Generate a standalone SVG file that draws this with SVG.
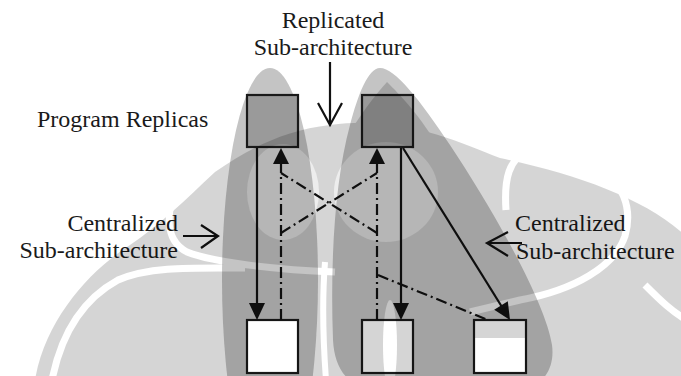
<svg xmlns="http://www.w3.org/2000/svg" width="681" height="376" viewBox="0 0 681 376">
<defs>
<style>
.box{stroke:#1a1a1a;stroke-width:2.2}
.ln{stroke:#111;stroke-width:2.2;fill:none}
.dd{stroke:#111;stroke-width:2.2;fill:none;stroke-dasharray:11 4 2 4}
.hd{fill:#111;stroke:none}
.petal{fill:#c4c4c4}
.lab{font-family:'Liberation Serif','Times New Roman',Times,'Noto Serif','DejaVu Serif',FreeSerif,Tinos,serif;font-size:24px;fill:#1a1a1a}
</style>
<mask id="wm" maskUnits="userSpaceOnUse" x="0" y="0" width="681" height="376">
<rect width="681" height="376" fill="black"/>
<path fill="white" d="M 35,380 C 45,320 90,270 130,245 C 160,225 185,200 215,172 C 250,148 285,130 330,125 C 400,115 455,140 500,158 C 580,175 650,200 690,240 L 690,380 Z"/>
<path fill="white" d="M 387,82 C 400,95 420,115 440,150 L 420,200 L 350,200 L 345,140 C 360,115 375,95 387,82 Z"/>
<g fill="none" stroke="black" stroke-width="7">
<path d="M 52,380 C 62,330 85,298 118,280 C 150,266 195,268 245,268"/>
<path d="M 178,182 C 166,212 164,240 187,252 C 215,263 280,270 335,272"/>
<path d="M 506,210 C 504,180 508,158 530,150 C 560,142 588,148 602,165 C 620,185 634,205 625,236 C 615,266 575,290 520,300 L 470,312"/>
<path d="M 645,285 C 660,300 672,312 690,322"/>
<path d="M 325,262 C 322,300 323,340 326,380" stroke-width="6"/>
</g>
<ellipse cx="390" cy="345" rx="7" ry="45" fill="black"/>
<rect x="248" y="321" width="49" height="52" fill="black"/>
<rect x="475" y="338" width="50" height="35" fill="black"/>
<ellipse cx="283" cy="192" rx="36" ry="48" fill="#707070"/>
<ellipse cx="386" cy="192" rx="52" ry="50" fill="#707070"/>
</mask>
</defs>
<rect width="681" height="376" fill="#ffffff"/>
<g id="sub-left">
<ellipse class="petal" cx="270" cy="280" rx="48" ry="212"/>
</g>
<g id="sub-right">
<path class="petal" d="M 380,68 C 395,68 420,100 450,145 C 490,205 545,300 552,345 C 556,375 535,395 500,395 L 400,395 C 360,395 335,380 333,340 C 330,260 335,180 350,125 C 358,95 368,68 380,68 Z"/>
</g>
<g id="replica-1"><rect class="box" x="247" y="95" width="51" height="52" fill="#9a9a9a"/></g>
<g id="replica-2"><rect class="box" x="362" y="95" width="51" height="52" fill="#9a9a9a"/></g>
<g id="out-1"><rect class="box" x="247" y="320" width="51" height="53" fill="#ffffff"/></g>
<g id="out-2"><rect class="box" x="362" y="320" width="51" height="53" fill="#ffffff"/></g>
<g id="out-3"><rect class="box" x="474" y="320" width="52" height="53" fill="#ffffff"/></g>
<g id="connectors">
<line class="ln" x1="257" y1="148" x2="257" y2="305"/>
<polygon class="hd" points="257,320 249,303 265,303"/>
<line class="dd" x1="281" y1="320" x2="281" y2="162"/>
<polygon class="hd" points="281,148 273,164 289,164"/>
<line class="dd" x1="377" y1="320" x2="377" y2="162"/>
<polygon class="hd" points="377,148 369,164 385,164"/>
<line class="ln" x1="401" y1="148" x2="401" y2="305"/>
<polygon class="hd" points="401,320 393,303 409,303"/>
<line class="ln" x1="403" y1="148" x2="502" y2="307"/>
<polygon class="hd" points="510,320 494.2,309.7 507.8,301.3"/>
<line class="dd" x1="281" y1="233" x2="377" y2="173"/>
<line class="dd" x1="377" y1="233" x2="281" y2="173"/>
<line class="dd" x1="378" y1="275" x2="488" y2="320"/>
<line class="ln" x1="330" y1="62" x2="330" y2="124"/>
<polyline class="ln" points="318,103 330,125 342,103"/>
<line class="ln" x1="183" y1="236" x2="217" y2="236"/>
<polyline class="ln" points="201,225 218,236 201,248"/>
<line class="ln" x1="488" y1="243" x2="522" y2="243"/>
<polyline class="ln" points="508,232 487,243 508,256"/>
</g>
<g id="labels">
<text class="lab" x="333" y="28" text-anchor="middle">Replicated</text>
<text class="lab" x="333" y="55" text-anchor="middle">Sub-architecture</text>
<text class="lab" x="37" y="127">Program Replicas</text>
<text class="lab" x="178" y="231" text-anchor="end">Centralized</text>
<text class="lab" x="178" y="258" text-anchor="end">Sub-architecture</text>
<text class="lab" x="515" y="231">Centralized</text>
<text class="lab" x="516" y="259">Sub-architecture</text>
</g>
<rect id="watermark" width="681" height="376" fill="#000" opacity="0.16" mask="url(#wm)"/>
</svg>
